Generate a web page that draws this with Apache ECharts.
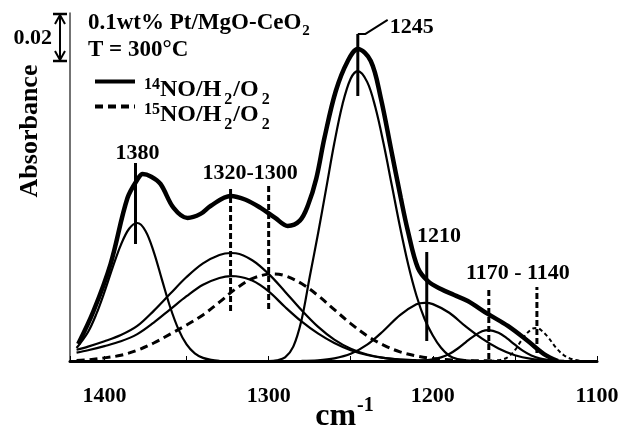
<!DOCTYPE html>
<html><head><meta charset="utf-8">
<script src="https://cdn.jsdelivr.net/npm/echarts@6/dist/echarts.min.js"></script>
<style>html,body{margin:0;padding:0;background:#fff}#c{width:620px;height:425px}</style>
</head><body><div id="c"></div>
<script>
// ---- data (wavenumber cm-1, absorbance) ----
const xTicks = [1400, 1300, 1200, 1100];
const envelope = [[1416.0,0.0071],[1406.7,0.0208],[1396.3,0.0404],[1386.0,0.0679],[1379.3,0.0763],[1376.8,0.0779],[1371.5,0.0768],[1365.9,0.0738],[1357.9,0.0638],[1349.4,0.0596],[1341.5,0.0613],[1335.4,0.0646],[1323.2,0.0688],[1314.0,0.0672],[1304.9,0.0638],[1296.0,0.0596],[1288.4,0.0563],[1281.0,0.0585],[1276.0,0.0650],[1271.0,0.0760],[1266.0,0.0930],[1259.1,0.1125],[1251.8,0.1250],[1245.7,0.1300],[1237.8,0.1250],[1231.7,0.1096],[1225.6,0.0888],[1219.5,0.0679],[1215.2,0.0542],[1209.1,0.0388],[1203.0,0.0333],[1195.1,0.0300],[1187.0,0.0275],[1178.7,0.0250],[1166.5,0.0196],[1154.3,0.0146],[1142.1,0.0083],[1132.3,0.0029],[1123.8,0.0000]];
const band1380 = [[1417,0.0054],[1410,0.0121],[1405,0.0195],[1400,0.0288],[1395,0.0390],[1390,0.0484],[1385,0.0551],[1380,0.0575],[1375,0.0542],[1370,0.0455],[1365,0.0339],[1360,0.0225],[1355,0.0133],[1350,0.0069],[1345,0.0032],[1340,0.0013],[1335,0.0005],[1330,0.0001]];
const band1320a = [[1417,0.0047],[1410,0.0060],[1400,0.0082],[1390,0.0108],[1380,0.0146],[1370,0.0209],[1360,0.0280],[1350,0.0350],[1340,0.0407],[1330,0.0442],[1323,0.0450],[1320,0.0449],[1310,0.0420],[1300,0.0363],[1290,0.0289],[1280,0.0212],[1270,0.0143],[1260,0.0089],[1250,0.0051],[1240,0.0027],[1230,0.0013],[1220,0.0006],[1210,0.0003],[1200,0.0001]];
const band1320b = [[1417,0.0035],[1410,0.0045],[1400,0.0062],[1390,0.0082],[1380,0.0112],[1370,0.0160],[1360,0.0215],[1350,0.0270],[1340,0.0318],[1330,0.0346],[1323,0.0354],[1320,0.0353],[1310,0.0335],[1300,0.0290],[1290,0.0225],[1280,0.0165],[1270,0.0115],[1260,0.0075],[1250,0.0045],[1240,0.0025],[1230,0.0013],[1220,0.0006],[1210,0.0003],[1200,0.0001]];
const band1300d = [[1417,0.0002],[1410,0.0005],[1400,0.0013],[1390,0.0024],[1380,0.0045],[1370,0.0075],[1360,0.0112],[1350,0.0150],[1340,0.0192],[1330,0.0245],[1320,0.0301],[1310,0.0343],[1300,0.0362],[1297,0.0363],[1290,0.0355],[1280,0.0323],[1270,0.0273],[1260,0.0214],[1250,0.0156],[1240,0.0105],[1230,0.0066],[1220,0.0038],[1210,0.0021],[1200,0.0010],[1190,0.0005],[1180,0.0002],[1170,0.0001],[1160,0.0000]];
const band1245 = [[1300,0.0000],[1295,0.0003],[1290,0.0015],[1285,0.0060],[1280,0.0170],[1275,0.0350],[1270,0.0528],[1265,0.0717],[1260,0.0908],[1255,0.1070],[1250,0.1177],[1245.7,0.1208],[1240,0.1163],[1235,0.1057],[1230,0.0906],[1225,0.0733],[1220,0.0559],[1215,0.0402],[1210,0.0273],[1205,0.0175],[1200,0.0106],[1195,0.0055],[1190,0.0022],[1185,0.0008],[1180,0.0003],[1175,0.0001]];
const band1210 = [[1280,0.0001],[1270,0.0003],[1260,0.0011],[1250,0.0030],[1240,0.0068],[1230,0.0126],[1220,0.0191],[1210,0.0236],[1205,0.0242],[1200,0.0237],[1190,0.0201],[1180,0.0144],[1170,0.0093],[1160,0.0052],[1150,0.0024],[1140,0.0009],[1130,0.0003],[1120,0.0001]];
const band1170 = [[1210,0.0001],[1205,0.0003],[1200,0.0007],[1195,0.0015],[1190,0.0029],[1185,0.0051],[1180,0.0078],[1175,0.0104],[1170,0.0124],[1166,0.0129],[1160,0.0118],[1155,0.0095],[1150,0.0068],[1145,0.0042],[1140,0.0023],[1135,0.0011],[1130,0.0005],[1125,0.0002],[1120,0.0000]];
const band1140d = [[1165,0.0001],[1160,0.0003],[1155,0.0013],[1150,0.0045],[1145,0.0096],[1140,0.0132],[1137,0.0138],[1135,0.0134],[1130,0.0101],[1125,0.0056],[1120,0.0023],[1115,0.0007],[1110,0.0001]];
// peak marker lines: [wavenumber, lower absorbance, upper absorbance]
const markersSolid = [[1381.1,0.0488,0.0825],[1245.7,0.1104,0.1363],[1203.7,0.0083,0.0454]];
const markersDashed = [[1323.2,0.0208,0.0717],[1300.0,0.0217,0.0729],[1165.9,0.0008,0.0304],[1136.6,0.0033,0.0308]];
const leader1245 = [[1245.7,0.1363],[1241.0,0.1363],[1227.5,0.1421]];
// peak labels: [text, wavenumber, absorbance, align]
const peakLabels = [['1380',1379.9,0.0867,'center'],['1320-1300',1311.3,0.0783,'center'],['1245',1226.2,0.1392,'left'],['1210',1196.3,0.0521,'center'],['1170 - 1140',1148.2,0.0367,'center']];
const scaleBar = 0.02;
const yMax = 0.145;

const FONT = "'Liberation Serif','Times New Roman',serif";
const chart = echarts.init(document.getElementById('c'));

function curve(name, data, width, type, z, smooth) {
  return {type:'line', name, data, symbol:'none', showSymbol:false,
    smooth: smooth === undefined ? 0.35 : smooth, silent:true,
    itemStyle:{color:'#000', opacity:0},
    lineStyle:{color:'#000', width, type:type||'solid'}, z:z||2};
}
const series = [
  curve('14NO/H2/O2', envelope, 4.5, 'solid', 4),
  curve('c1380', band1380, 2.2),
  curve('c1320a', band1320a, 2.2),
  curve('c1320b', band1320b, 2.2),
  curve('15NO/H2/O2', band1300d, 3, [8,5]),
  curve('c1245', band1245, 2.2),
  curve('c1210', band1210, 2.2),
  curve('c1170', band1170, 2.2),
  curve('c1140d', band1140d, 2, [4,3]),
  curve('leader', leader1245, 2, 'solid', 3, false)
];
markersSolid.forEach(m => series.push(curve('marker', [[m[0],m[1]],[m[0],m[2]]], 3, 'solid', 3, false)));
markersDashed.forEach(m => series.push(curve('marker', [[m[0],m[1]],[m[0],m[2]]], 3, [6,3], 3, false)));
series.push({type:'scatter', name:'labels', symbolSize:0, silent:true, z:6,
  itemStyle:{color:'#000', opacity:1},
  data: peakLabels.map(p => ({name:p[0], value:[p[1],p[2]], label:{align:p[3]}})),
  label:{show:true, formatter:'{b}', position:[0,0], verticalAlign:'middle', color:'#000', opacity:1,
    textBorderWidth:0, fontFamily:FONT, fontWeight:'bold', fontSize:22}});

const base = {fontFamily:FONT, fontWeight:'bold', color:'#000'};
chart.setOption({
  animation:false,
  backgroundColor:'#fff',
  grid:{left:70, right:23, top:13, bottom:64, outerBoundsMode:'none', containLabel:false},
  title:{left:88, top:10, padding:0,
    text:'{a|0.1wt% Pt/MgO-CeO}{s|2}\n{a|T = 300°C}',
    textStyle:{rich:{
      a:Object.assign({fontSize:23, lineHeight:27}, base),
      s:Object.assign({fontSize:15, lineHeight:10, padding:[16,0,0,1]}, base)}}},
  legend:{orient:'vertical', left:88, top:50, itemWidth:40, itemHeight:4, itemGap:-28,
    selectedMode:false, data:['14NO/H2/O2','15NO/H2/O2'],
    lineStyle:{width:4},
    formatter: n => '{u|' + n.slice(0,2) + '}{m|NO/H}{d|2}{m|/O}{d|2}',
    textStyle:{rich:{
      m:Object.assign({fontSize:24, lineHeight:16, padding:[16,0,0,0]}, base),
      u:Object.assign({fontSize:16, lineHeight:12, padding:[6,0,0,4]}, base),
      d:Object.assign({fontSize:16, lineHeight:12, padding:[37,1,0,3]}, base)}}},
  xAxis:{type:'value', min:1100, max:1421, inverse:true, interval:50,
    axisLine:{lineStyle:{color:'#000', width:3}},
    axisTick:{show:true, inside:true, length:5, lineStyle:{color:'#000', width:1}},
    splitLine:{show:false},
    axisLabel:Object.assign({margin:24, fontSize:22, formatter:v => xTicks.includes(v) ? String(v) : ''}, base),
    name:'{c|cm}{s|-1}', nameLocation:'middle', nameGap:39, nameMoveOverlap:false,
    nameTextStyle:{rich:{
      c:Object.assign({fontSize:32, lineHeight:34, padding:[0,0,0,22]}, base),
      s:Object.assign({fontSize:20, lineHeight:16, padding:[0,0,22,1]}, base)}}},
  yAxis:{type:'value', min:0, max:yMax,
    axisLine:{show:true, lineStyle:{color:'#444', width:1.5}},
    axisTick:{show:false}, axisLabel:{show:false}, splitLine:{show:false},
    name:'Absorbance', nameLocation:'middle', nameGap:27, nameRotate:90,
    nameTextStyle:Object.assign({fontSize:26, padding:[0,0,0,112]}, base)},
  series
});

// scale bar (0.02 absorbance) drawn from the y scale
const yTop = chart.convertToPixel({yAxisIndex:0}, yMax);
const yBot = chart.convertToPixel({yAxisIndex:0}, yMax - scaleBar);
const bx = 60;
const ls = {stroke:'#000', lineWidth:2};
chart.setOption({graphic:[
  {type:'line', shape:{x1:bx, y1:yTop, x2:bx, y2:yBot}, style:ls},
  {type:'line', shape:{x1:bx-7, y1:yTop+1, x2:bx+7, y2:yTop+1}, style:{stroke:'#000', lineWidth:2.5}},
  {type:'line', shape:{x1:bx-7, y1:yBot, x2:bx+7, y2:yBot}, style:{stroke:'#000', lineWidth:2.5}},
  {type:'polyline', shape:{points:[[bx-5,yTop+11],[bx,yTop+2],[bx+5,yTop+11]]}, style:ls},
  {type:'polyline', shape:{points:[[bx-5,yBot-10],[bx,yBot-1],[bx+5,yBot-10]]}, style:ls},
  {type:'text', x:bx-8, y:(yTop+yBot)/2+1, style:Object.assign({text:'0.02', fontSize:22, align:'right', verticalAlign:'middle', fill:'#000'}, {fontFamily:FONT, fontWeight:'bold'})}
]});
</script></body></html>
